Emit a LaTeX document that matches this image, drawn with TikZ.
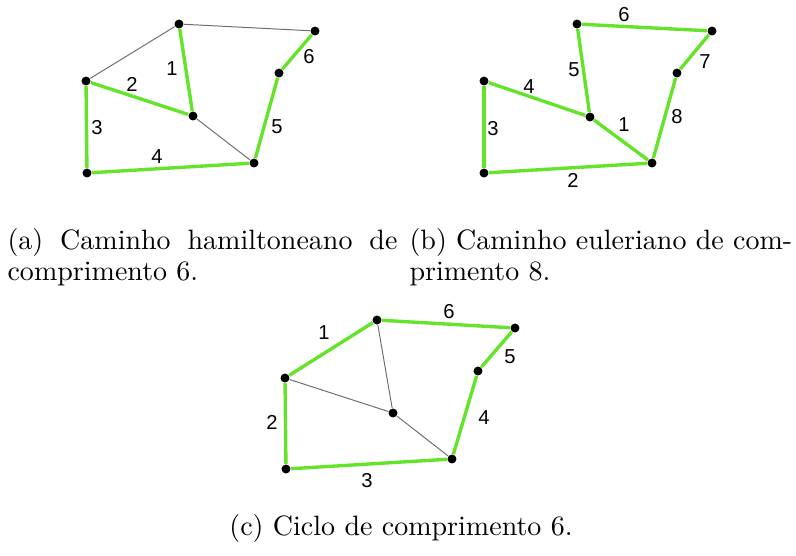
\documentclass[tikz,border=0pt]{standalone}
\usepackage{fontspec}
\usepackage{tikz}
\usetikzlibrary{backgrounds}
\newfontfamily\numfont{Liberation Sans}
\definecolor{pathgreen}{RGB}{100,228,40}
\definecolor{edgegray}{RGB}{110,110,110}
\tikzset{
  vtx/.style={circle, fill=black, inner sep=0pt, minimum size=3.2pt},
  gedge/.style={draw=edgegray, line width=0.35pt},
  hedge/.style={draw=pathgreen, line width=1.2pt},
  lbl/.style={font=\numfont\fontsize{7.2}{8}\selectfont, inner sep=0pt},
  capn/.style={font=\normalsize, inner sep=0pt, anchor=base west},
}

\begin{document}
\begin{tikzpicture}[x=0.357pt,y=-0.357pt]
\useasboundingbox (0,0) rectangle (796,556);
% (a) caminho hamiltoneano
\node[vtx] (aT) at (179,24) {};
\node[vtx] (aTR) at (315,31) {};
\node[vtx] (aL) at (86,81) {};
\node[vtx] (aC) at (193,116) {};
\node[vtx] (aR) at (279,73) {};
\node[vtx] (aBL) at (87,173) {};
\node[vtx] (aBR) at (254,163) {};
\begin{scope}[on background layer]
\draw[gedge] (aT) -- (aTR); \draw[gedge] (aL) -- (aT); \draw[gedge] (aC) -- (aBR);
\draw[hedge] (aT) -- (aC); \draw[hedge] (aL) -- (aC); \draw[hedge] (aL) -- (aBL);
\draw[hedge] (aBL) -- (aBR); \draw[hedge] (aBR) -- (aR); \draw[hedge] (aR) -- (aTR);
\end{scope}
\node[lbl] (a1) at (172,69) {1};
\node[lbl] (a2) at (132,84) {2};
\node[lbl] (a3) at (97,128) {3};
\node[lbl] (a4) at (157,157) {4};
\node[lbl] (a5) at (277,127) {5};
\node[lbl] (a6) at (309,57) {6};
% (b) caminho euleriano
\node[vtx] (bT) at (577,24) {};
\node[vtx] (bTR) at (712,31) {};
\node[vtx] (bL) at (484,81) {};
\node[vtx] (bC) at (590,117) {};
\node[vtx] (bR) at (677,73) {};
\node[vtx] (bBL) at (484,173) {};
\node[vtx] (bBR) at (652,163) {};
\begin{scope}[on background layer]
\draw[hedge] (bC) -- (bBR); \draw[hedge] (bBL) -- (bBR); \draw[hedge] (bL) -- (bBL); \draw[hedge] (bL) -- (bC);
\draw[hedge] (bC) -- (bT); \draw[hedge] (bT) -- (bTR); \draw[hedge] (bTR) -- (bR); \draw[hedge] (bR) -- (bBR);
\end{scope}
\node[lbl] (b1) at (624,125) {1};
\node[lbl] (b2) at (573,180) {2};
\node[lbl] (b3) at (493,129) {3};
\node[lbl] (b4) at (529,87) {4};
\node[lbl] (b5) at (574,70) {5};
\node[lbl] (b6) at (624,15) {6};
\node[lbl] (b7) at (705,62) {7};
\node[lbl] (b8) at (677,117) {8};
% (c) ciclo
\node[vtx] (cT) at (377,320) {};
\node[vtx] (cTR) at (515,328) {};
\node[vtx] (cL) at (285,378) {};
\node[vtx] (cC) at (393,413) {};
\node[vtx] (cR) at (478,371) {};
\node[vtx] (cBL) at (286,469) {};
\node[vtx] (cBR) at (452,459) {};
\begin{scope}[on background layer]
\draw[gedge] (cT) -- (cC); \draw[gedge] (cL) -- (cC); \draw[gedge] (cC) -- (cBR);
\draw[hedge] (cL) -- (cT); \draw[hedge] (cL) -- (cBL); \draw[hedge] (cBL) -- (cBR);
\draw[hedge] (cBR) -- (cR); \draw[hedge] (cR) -- (cTR); \draw[hedge] (cT) -- (cTR);
\end{scope}
\node[lbl] (c1) at (324,333) {1};
\node[lbl] (c2) at (272,422) {2};
\node[lbl] (c3) at (367,481) {3};
\node[lbl] (c4) at (484,418) {4};
\node[lbl] (c5) at (510,357) {5};
\node[lbl] (c6) at (449,312) {6};
% legendas
\node[capn] (capa) at (7,249) {\makebox[139.2pt][s]{(a) Caminho hamiltoneano de}};
\node[capn] (capa2) at (7,280) {comprimento 6.};
\node[capn] (capb) at (409,249) {\makebox[136.6pt][s]{(b) Caminho euleriano de com-}};
\node[capn] (capb2) at (409,280) {primento 8.};
\node[capn, anchor=base] (capc) at (401,535) {(c) Ciclo de comprimento 6.};
\end{tikzpicture}
\end{document}
